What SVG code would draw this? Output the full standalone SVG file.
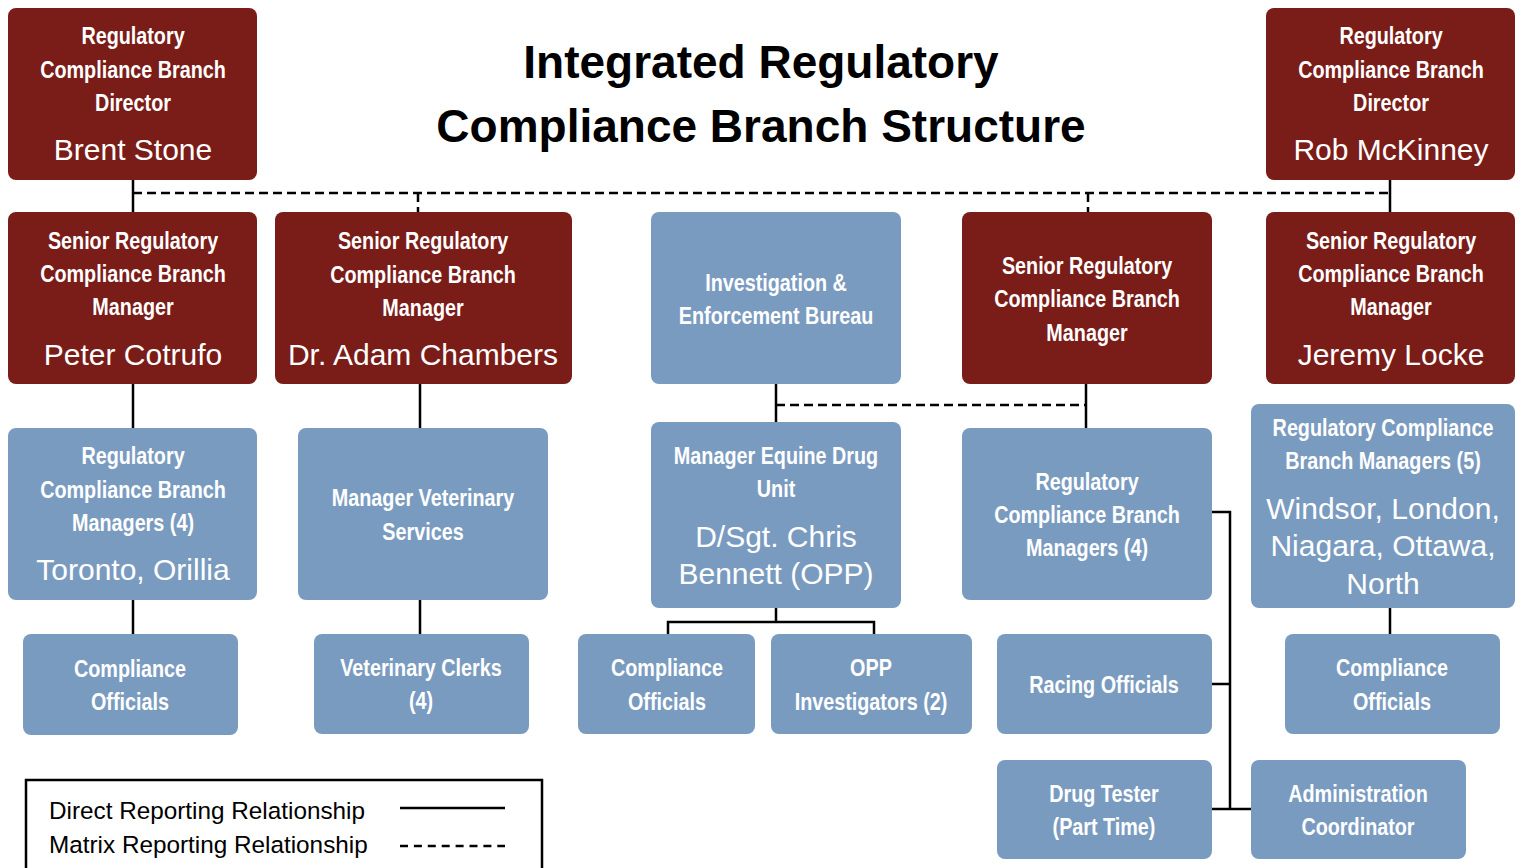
<svg xmlns="http://www.w3.org/2000/svg" width="1523" height="868" viewBox="0 0 1523 868">
<style>
.red{fill:#7A1C17}
.blue{fill:#7A9BC0}
.h{font-family:"Liberation Sans",Arial,sans-serif;font-weight:bold;font-size:23px;fill:#fff;text-anchor:middle}
.n{font-family:"Liberation Sans",Arial,sans-serif;font-size:30px;fill:#fff;text-anchor:middle}
.t{font-family:"Liberation Sans",Arial,sans-serif;font-weight:bold;font-size:46px;fill:#000;text-anchor:middle}
.l{font-family:"Liberation Sans",Arial,sans-serif;font-size:24.3px;fill:#000}
.s{stroke:#000;stroke-width:2.5;fill:none}
.d{stroke:#000;stroke-width:2.5;fill:none;stroke-dasharray:9 5}
</style>
<rect width="1523" height="868" fill="#fff"/>
<g id="title">
<text class="t" x="761" y="78">Integrated Regulatory</text>
<text class="t" x="761" y="142">Compliance Branch Structure</text>
</g>
<g id="connectors">
<path class="d" d="M133 193H1390M418 193V212M1088 193V212M776 405H1086"/>
<path class="s" d="M133 180V212M1390 180V212M133 384V428M420 384V428M776 384V422M1086 384V428M133 600V634M420 600V634M776 608V622M668 634V622H874V634M1390 608V634M1212 512H1230V809H1251M1212 684H1230M1212 809H1230"/>
</g>
<g id="dir1"><rect class="red" x="8" y="8" width="249" height="172" rx="8"/>
<text class="h" transform="translate(133 44) scale(0.86 1)">Regulatory</text><text class="h" transform="translate(133 78) scale(0.86 1)">Compliance Branch</text><text class="h" transform="translate(133 111) scale(0.86 1)">Director</text><text class="n" x="133" y="160">Brent Stone</text></g>
<g id="dir2"><rect class="red" x="1266" y="8" width="249" height="172" rx="8"/>
<text class="h" transform="translate(1391 44) scale(0.86 1)">Regulatory</text><text class="h" transform="translate(1391 78) scale(0.86 1)">Compliance Branch</text><text class="h" transform="translate(1391 111) scale(0.86 1)">Director</text><text class="n" x="1391" y="160">Rob McKinney</text></g>
<g id="srm1"><rect class="red" x="8" y="212" width="249" height="172" rx="8"/>
<text class="h" transform="translate(133 249) scale(0.86 1)">Senior Regulatory</text><text class="h" transform="translate(133 282) scale(0.86 1)">Compliance Branch</text><text class="h" transform="translate(133 315) scale(0.86 1)">Manager</text><text class="n" x="133" y="365">Peter Cotrufo</text></g>
<g id="srm2"><rect class="red" x="275" y="212" width="297" height="172" rx="8"/>
<text class="h" transform="translate(423 249) scale(0.86 1)">Senior Regulatory</text><text class="h" transform="translate(423 283) scale(0.86 1)">Compliance Branch</text><text class="h" transform="translate(423 316) scale(0.86 1)">Manager</text><text class="n" x="423" y="365">Dr. Adam Chambers</text></g>
<g id="ieb"><rect class="blue" x="651" y="212" width="250" height="172" rx="8"/>
<text class="h" transform="translate(776 291) scale(0.86 1)">Investigation &amp;</text><text class="h" transform="translate(776 324) scale(0.86 1)">Enforcement Bureau</text></g>
<g id="srm3"><rect class="red" x="962" y="212" width="250" height="172" rx="8"/>
<text class="h" transform="translate(1087 274) scale(0.86 1)">Senior Regulatory</text><text class="h" transform="translate(1087 307) scale(0.86 1)">Compliance Branch</text><text class="h" transform="translate(1087 341) scale(0.86 1)">Manager</text></g>
<g id="srm4"><rect class="red" x="1266" y="212" width="249" height="172" rx="8"/>
<text class="h" transform="translate(1391 249) scale(0.86 1)">Senior Regulatory</text><text class="h" transform="translate(1391 282) scale(0.86 1)">Compliance Branch</text><text class="h" transform="translate(1391 315) scale(0.86 1)">Manager</text><text class="n" x="1391" y="365">Jeremy Locke</text></g>
<g id="rcbm1"><rect class="blue" x="8" y="428" width="249" height="172" rx="8"/>
<text class="h" transform="translate(133 464) scale(0.86 1)">Regulatory</text><text class="h" transform="translate(133 498) scale(0.86 1)">Compliance Branch</text><text class="h" transform="translate(133 531) scale(0.86 1)">Managers (4)</text><text class="n" x="133" y="580">Toronto, Orillia</text></g>
<g id="mvs"><rect class="blue" x="298" y="428" width="250" height="172" rx="8"/>
<text class="h" transform="translate(423 506) scale(0.86 1)">Manager Veterinary</text><text class="h" transform="translate(423 540) scale(0.86 1)">Services</text></g>
<g id="medu"><rect class="blue" x="651" y="422" width="250" height="186" rx="8"/>
<text class="h" transform="translate(776 464) scale(0.86 1)">Manager Equine Drug</text><text class="h" transform="translate(776 497) scale(0.86 1)">Unit</text><text class="n" x="776" y="547">D/Sgt. Chris</text><text class="n" x="776" y="584">Bennett (OPP)</text></g>
<g id="rcbm2"><rect class="blue" x="962" y="428" width="250" height="172" rx="8"/>
<text class="h" transform="translate(1087 490) scale(0.86 1)">Regulatory</text><text class="h" transform="translate(1087 523) scale(0.86 1)">Compliance Branch</text><text class="h" transform="translate(1087 556) scale(0.86 1)">Managers (4)</text></g>
<g id="rcbm3"><rect class="blue" x="1251" y="404" width="264" height="204" rx="8"/>
<text class="h" transform="translate(1383 436) scale(0.86 1)">Regulatory Compliance</text><text class="h" transform="translate(1383 469) scale(0.86 1)">Branch Managers (5)</text><text class="n" x="1383" y="519">Windsor, London,</text><text class="n" x="1383" y="556">Niagara, Ottawa,</text><text class="n" x="1383" y="594">North</text></g>
<g id="co1"><rect class="blue" x="23" y="634" width="215" height="101" rx="8"/>
<text class="h" transform="translate(130 677) scale(0.86 1)">Compliance</text><text class="h" transform="translate(130 710) scale(0.86 1)">Officials</text></g>
<g id="vc"><rect class="blue" x="314" y="634" width="215" height="100" rx="8"/>
<text class="h" transform="translate(421 676) scale(0.86 1)">Veterinary Clerks</text><text class="h" transform="translate(421 709) scale(0.86 1)">(4)</text></g>
<g id="co2"><rect class="blue" x="578" y="634" width="177" height="100" rx="8"/>
<text class="h" transform="translate(667 676) scale(0.86 1)">Compliance</text><text class="h" transform="translate(667 710) scale(0.86 1)">Officials</text></g>
<g id="opp"><rect class="blue" x="771" y="634" width="201" height="100" rx="8"/>
<text class="h" transform="translate(871 676) scale(0.86 1)">OPP</text><text class="h" transform="translate(871 710) scale(0.86 1)">Investigators (2)</text></g>
<g id="ro"><rect class="blue" x="997" y="634" width="215" height="100" rx="8"/>
<text class="h" transform="translate(1104 693) scale(0.86 1)">Racing Officials</text></g>
<g id="co3"><rect class="blue" x="1285" y="634" width="215" height="100" rx="8"/>
<text class="h" transform="translate(1392 676) scale(0.86 1)">Compliance</text><text class="h" transform="translate(1392 710) scale(0.86 1)">Officials</text></g>
<g id="dt"><rect class="blue" x="997" y="760" width="215" height="99" rx="8"/>
<text class="h" transform="translate(1104 802) scale(0.86 1)">Drug Tester</text><text class="h" transform="translate(1104 835) scale(0.86 1)">(Part Time)</text></g>
<g id="ac"><rect class="blue" x="1251" y="760" width="215" height="99" rx="8"/>
<text class="h" transform="translate(1358 802) scale(0.86 1)">Administration</text><text class="h" transform="translate(1358 835) scale(0.86 1)">Coordinator</text></g>
<g id="legend">
<rect x="26" y="780" width="516" height="100" fill="none" stroke="#000" stroke-width="2.5"/>
<text class="l" x="49" y="819">Direct Reporting Relationship</text>
<text class="l" x="49" y="853">Matrix Reporting Relationship</text>
<path class="s" d="M400 808H505"/>
<path class="s" d="M400 846H505" stroke-dasharray="8 5.9"/>
</g>
</svg>
